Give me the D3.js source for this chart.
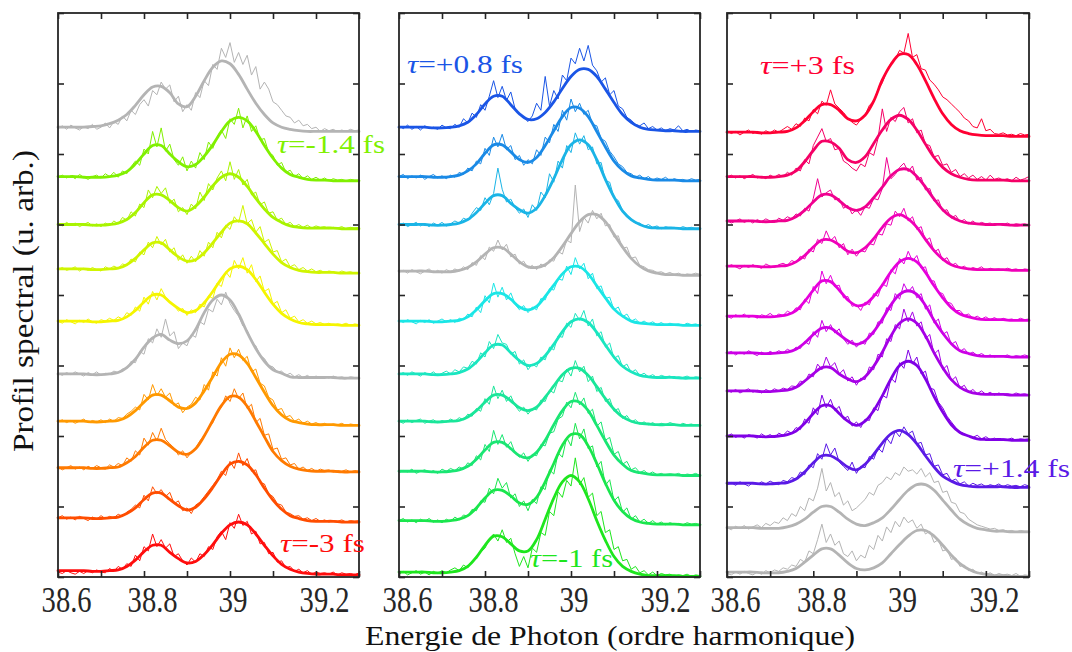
<!DOCTYPE html>
<html><head><meta charset="utf-8">
<script src="https://cdn.jsdelivr.net/npm/d3@7"></script>
<style>body{margin:0;background:#fff}</style>
</head><body><svg id="c" width="1072" height="652"></svg>
<script>
const xDomain = [38.6, 39.3];
const yDomain = [0, 800];
const xTickValues = [38.6, 38.7, 38.8, 38.9, 39.0, 39.1, 39.2, 39.3];
const xTickLabels = ["38.6", "", "38.8", "", "39", "", "39.2", ""];
const yTickValues = [0, 100, 200, 300, 400, 500, 600, 700, 800];
const xTitle = "Energie de Photon (ordre harmonique)";
const yTitle = "Profil spectral (u. arb.)";
const tauTexts = ["=-1.4 fs", "=-3 fs", "=+0.8 fs", "=-1 fs", "=+3 fs", "=+1.4 fs"];

// sampling grids (fit every 0.02, measured spectrum every 0.01)
const fitX = d3.range(36).map(i => 38.6 + i * 0.02);
const rawX = d3.range(71).map(j => 38.6 + j * 0.01);

const panel1Colors = ["#b4b4b4","#80f000","#a8f400","#d0f500","#f5f500","#b4b4b4","#ff9900","#ff7a00","#ff4d00","#ff0d0d"];
const panel1Offsets = [632, 562, 494, 431, 357, 282, 215, 149, 78, 3];
const panel1Fit = [
[6,6,6,6,7,8,11,16,24,37,52,63,64,55,39,35,50,72,91,100,96,81,60,40,24,12,6,3,1,0,0,0,0,0,0,0],
[6,6,6,5,5,5,6,8,13,24,38,50,50,38,27,20,23,35,51,70,85,90,85,70,50,32,18,9,5,2,1,1,0,0,0,0],
[6,6,6,6,5,5,6,8,13,23,37,48,48,40,30,25,32,45,61,73,78,73,60,43,28,16,9,4,2,1,1,1,1,0,0,0],
[6,6,6,6,5,5,6,7,12,21,33,43,43,33,23,17,19,29,43,58,71,74,70,57,42,27,15,8,4,2,1,1,1,0,0,0],
[6,6,6,6,5,5,6,7,12,21,33,43,43,33,24,18,21,32,48,66,80,84,79,65,47,30,17,9,4,2,1,1,1,0,0,0],
[6,6,6,6,5,5,6,8,15,27,44,57,62,54,49,53,69,93,111,118,111,91,65,42,24,12,7,2,1,1,1,1,1,0,0,0],
[6,6,6,6,5,5,6,7,12,21,33,43,43,35,26,24,32,49,69,89,101,100,88,68,47,28,15,7,4,2,1,1,1,0,0,0],
[6,6,6,6,5,5,6,7,13,22,35,45,45,37,28,25,33,51,73,94,107,106,93,72,50,29,16,8,4,2,1,1,1,0,0,0],
[6,6,6,6,5,5,6,7,12,20,32,41,41,32,23,17,21,33,49,67,82,86,81,67,48,31,18,9,5,2,1,1,1,0,0,0],
[6,6,6,6,5,5,6,7,12,21,33,42,42,32,23,17,19,29,43,59,71,75,71,58,42,27,15,8,4,2,1,1,1,0,0,0]
];
const panel1Raw = [
[4,8,3,9,5,2,7,4,10,3, 6,12,5,14,10,22,15,30,24,38, 45,36,58,52,70,60,66,42,50,28, 38,30,55,48,72,65,95,88,118,105, 126,98,112,95,108,80,92,60,70,60, 42,38,30,22,20,12,16,8,10,4, 6,0,4,1,3,0,2,0,3,1,2],
[5,8,4,7,3,9,5,2,6,8, 4,10,6,12,5,14,10,20,28,22, 45,38,70,48,75,42,52,30,22,34, 14,28,18,40,30,55,46,62,72,60, 88,80,103,75,92,70,78,58,60,40, 36,22,26,12,15,6,10,3,7,2, 5,1,4,0,3,1,2,0,2,1,1],
[7,4,9,5,8,3,6,9,4,7, 3,8,5,11,7,16,12,24,18,35, 30,55,44,60,50,58,36,42,24,30, 20,35,28,52,40,64,55,72,82,68, 95,70,84,62,70,48,52,34,38,22, 24,12,15,6,9,3,6,2,5,1, 4,2,3,0,2,1,3,0,2,1,2],
[5,8,4,6,9,3,7,4,8,5, 3,9,6,10,7,13,11,20,16,30, 26,44,36,52,40,48,30,36,18,26, 14,24,16,32,24,44,36,58,50,68, 62,80,72,96,70,76,58,66,44,48, 30,32,16,20,9,12,5,8,3,6, 2,4,1,3,2,0,3,1,2,0,1],
[6,3,8,5,2,7,4,9,5,3, 8,6,10,7,12,9,18,14,26,20, 40,30,48,36,52,40,34,28,20,24, 14,22,18,30,26,42,38,60,55,76, 68,92,80,96,74,86,62,70,48,52, 30,34,18,22,10,13,5,8,3,6, 2,4,1,3,0,2,1,3,0,2,1],
[7,4,8,5,9,6,3,8,5,9, 4,7,6,10,8,13,14,24,22,38, 34,56,50,70,58,84,60,66,42,50, 46,62,58,80,76,98,94,112,104,122, 106,96,88,74,68,52,46,32,28,18, 16,9,10,4,7,2,5,1,4,0, 3,1,2,0,3,1,2,0,2,1,1],
[5,8,4,7,3,6,9,4,7,5, 8,4,9,6,11,10,16,20,26,22, 44,36,58,42,52,40,46,28,32,18, 26,30,40,36,58,50,76,70,96,84, 110,96,108,92,98,76,80,60,56,40, 36,22,24,12,14,6,9,3,6,2, 4,1,3,0,2,1,3,0,2,1,1],
[7,3,6,9,4,7,3,8,5,9, 6,4,10,7,12,9,20,15,30,24, 48,38,56,44,62,46,40,34,24,30, 20,28,34,44,52,62,70,84,92,108, 100,118,104,112,90,96,70,76,52,54, 32,34,18,20,10,12,4,7,2,5, 1,4,2,3,0,2,1,3,0,2,1],
[6,9,4,7,3,8,5,2,7,4, 9,5,8,6,11,8,14,18,24,20, 38,30,50,40,46,36,42,26,30,16, 20,12,24,28,36,44,52,60,72,66, 86,76,98,80,90,72,74,56,54,40, 36,26,24,14,12,8,9,4,6,2, 5,1,3,0,2,1,3,0,2,1,2],
[4,2,6,3,1,5,2,6,3,7, 4,3,9,5,12,8,16,12,28,20, 40,34,58,40,50,38,44,26,30,20, 14,24,18,30,26,40,36,54,62,50, 74,66,86,70,76,58,62,44,46,30, 32,18,20,10,12,5,8,3,6,1, 4,2,3,1,4,0,3,1,2,0,3]
];

const panel2Colors = ["#1a55e6","#1a8ae6","#1ab4e6","#b4b4b4","#1ae6e6","#1ae6c0","#1ae69a","#1ae673","#1ae64d","#1ee61e"];
const panel2Offsets = [632, 562, 494, 428, 357, 282, 215, 144, 74, 1];
const panel2Fit = [
[6,6,6,6,5,5,6,8,13,24,39,50,50,38,25,17,18,27,42,61,78,88,88,78,60,41,24,13,6,3,2,1,1,0,0,0],
[6,6,6,6,5,5,6,8,14,24,39,51,51,41,30,26,33,50,71,91,104,103,91,70,48,28,15,7,4,2,1,1,1,0,0,0],
[6,6,6,6,5,5,6,8,13,23,36,47,47,36,27,22,29,47,71,98,119,126,119,98,70,45,25,13,6,2,1,1,1,0,0,0],
[6,6,6,6,5,5,5,7,11,19,30,39,39,30,19,12,11,15,25,41,59,76,86,86,76,58,40,24,13,6,3,1,1,0,0,0],
[6,6,6,6,5,5,6,7,12,22,35,45,45,37,26,22,27,41,57,73,83,83,73,56,39,23,13,6,3,2,1,1,1,0,0,0],
[6,6,6,6,5,5,6,8,13,23,36,47,47,36,25,18,21,32,48,66,80,84,79,65,47,30,17,9,4,2,1,1,1,0,0,0],
[6,6,6,6,5,5,6,7,12,21,33,43,43,35,25,21,26,40,56,72,81,81,71,55,38,23,12,6,3,2,1,1,1,0,0,0],
[6,6,6,6,5,5,6,8,13,23,36,47,47,38,28,25,33,50,72,92,105,104,92,71,49,29,16,7,4,2,1,1,1,0,0,0],
[6,6,6,6,5,5,6,8,13,24,38,49,49,41,31,29,39,61,87,113,128,128,112,87,59,35,19,9,4,2,1,1,1,0,0,0],
[6,6,6,6,5,5,6,8,14,27,44,57,56,46,36,36,52,81,111,134,143,134,110,79,51,28,14,7,3,1,1,1,1,0,0,0]
];
const panel2Raw = [
[8,4,9,3,7,2,8,4,6,3, 9,5,4,10,6,18,12,26,20,38, 30,50,72,48,64,44,56,32,24,20, 14,22,40,30,78,36,58,46,80,72, 104,96,118,100,122,94,86,70,76,52, 58,36,32,20,16,10,8,12,4,7, 2,5,1,4,2,8,1,3,0,2,1],
[6,9,3,7,4,8,2,6,9,4, 7,3,8,5,12,9,18,14,28,24, 46,36,62,48,66,44,50,30,36,22, 30,24,44,36,62,54,80,70,100,86, 116,98,110,94,100,80,78,60,56,42, 34,24,20,12,10,5,8,3,6,1, 4,2,5,0,3,1,2,0,3,1,2],
[5,8,3,6,9,4,7,3,8,5, 9,4,7,11,8,15,12,22,30,26, 44,34,50,86,56,38,42,30,22,28, 16,34,26,52,44,78,66,96,86,118, 108,136,120,132,112,116,92,94,68,66, 44,40,26,20,14,8,8,3,6,2, 4,0,3,1,2,0,3,1,2,0,1],
[4,7,3,8,5,2,6,9,4,7, 3,8,5,9,6,12,8,18,14,28, 22,40,34,50,36,44,26,30,16,20, 10,14,8,16,12,22,20,34,30,50, 46,128,62,82,74,92,80,88,70,72, 54,56,38,40,24,26,14,12,8,7, 4,5,2,4,1,3,0,2,1,3,1],
[7,4,8,5,2,7,4,8,3,6, 9,5,8,4,10,8,16,12,26,18, 42,32,60,40,54,36,46,30,22,28, 18,26,22,38,36,52,50,66,64,84, 72,96,80,88,66,74,52,56,38,40, 22,26,12,16,6,9,3,6,2,5, 1,4,0,3,1,2,0,3,1,2,0],
[5,8,4,9,6,3,8,5,9,4, 7,10,6,12,9,16,14,24,20,36, 30,52,42,62,50,48,34,38,20,26, 12,20,16,30,26,44,40,60,58,78, 72,92,82,96,74,84,60,66,44,50, 28,32,16,20,8,12,4,7,2,5, 1,4,2,3,0,2,1,3,0,2,1],
[6,3,8,4,7,9,3,6,8,4, 7,5,9,6,11,8,16,13,24,20, 38,30,56,38,50,34,42,28,20,26, 16,24,22,36,34,50,46,64,62,80, 70,92,76,84,62,70,48,54,34,38, 20,24,10,14,5,8,2,5,1,4, 0,3,1,4,2,0,3,1,2,0,2],
[4,7,5,9,3,6,8,4,7,3, 9,6,10,7,12,9,18,14,28,22, 44,34,64,44,58,40,48,32,26,32, 20,30,28,44,42,60,62,80,84,104, 96,118,100,110,88,94,70,76,50,54, 30,34,16,20,8,11,4,7,2,5, 1,3,0,2,1,3,0,2,1,3,0],
[6,9,4,7,3,8,5,9,4,7, 3,8,5,11,7,14,12,22,20,34, 32,52,44,66,52,60,38,44,26,34, 20,36,30,54,50,78,72,102,96,124, 112,144,122,136,108,112,82,90,56,64, 34,40,18,24,8,13,4,8,2,6, 1,4,0,3,1,2,0,3,1,2,0],
[3,7,2,5,8,3,6,2,7,4, 8,5,9,12,8,16,12,22,28,34, 40,52,60,50,66,48,54,32,14,28, 12,40,34,62,58,92,86,120,112,136, 128,168,130,140,112,118,86,92,62,66, 38,42,22,24,10,14,5,8,2,6, 1,4,2,3,0,2,1,3,0,2,1]
];

const panel3Colors = ["#ff0033","#f50066","#f00090","#f000b8","#e600dc","#cc00e6","#a600e6","#8000e6","#5a1ae6","#b4b4b4","#b4b4b4"];
const panel3Offsets = [625, 562, 499, 435, 364, 312, 258, 194, 127, 64, 1];
const panel3Fit = [
[6,6,6,6,5,5,6,7,12,22,35,45,45,37,25,22,30,50,80,102,116,116,102,79,54,32,17,8,4,2,1,1,1,0,0,0],
[6,6,6,6,5,5,6,8,14,27,43,56,55,46,30,26,34,53,72,87,93,87,72,52,33,19,10,5,2,1,1,1,1,0,0,0],
[6,6,6,6,5,5,6,7,12,21,33,43,43,35,25,21,26,39,54,70,79,79,69,54,37,22,12,6,3,2,1,1,1,0,0,0],
[6,6,6,6,5,5,6,7,12,21,33,43,43,36,27,25,32,45,61,74,79,73,61,44,28,16,8,4,2,1,1,1,1,0,0,0],
[6,6,6,6,5,5,6,8,14,27,43,56,55,43,29,21,23,34,50,69,83,88,83,68,49,32,18,9,5,2,1,1,1,0,0,0],
[6,6,6,6,5,5,6,7,11,20,32,41,41,32,23,18,23,36,54,74,89,94,89,73,52,34,19,9,5,2,1,1,1,0,0,0],
[6,6,6,6,5,5,6,7,11,20,30,39,39,30,23,19,26,41,61,84,102,108,102,84,60,39,22,11,5,2,1,1,1,0,0,0],
[6,6,6,6,5,5,6,8,13,24,38,49,49,38,27,21,27,42,63,87,106,112,106,87,62,40,22,11,6,2,1,1,1,0,0,0],
[6,6,6,6,5,5,6,7,12,22,35,45,45,38,29,25,33,47,63,76,81,75,62,45,29,16,9,4,2,1,1,1,1,0,0,0],
[6,6,6,6,5,5,5,7,11,18,28,36,36,28,18,11,9,13,20,32,46,59,67,67,59,45,31,18,10,5,3,1,1,0,0,0],
[6,6,6,6,5,5,5,7,11,20,30,39,39,30,19,11,9,12,19,32,45,57,65,65,57,44,30,18,10,5,3,1,1,0,0,0]
];
const panel3Raw = [
[8,4,7,2,6,9,4,7,3,8, 5,9,6,10,14,10,18,14,26,22, 38,32,50,44,66,46,40,34,26,20, 16,24,30,44,50,66,76,92,104,110, 122,118,146,112,116,96,94,80,74,66, 56,52,46,40,34,26,22,14,12,25, 8,10,4,3,5,2,3,1,4,2,3],
[5,8,4,7,3,6,9,4,6,3, 8,5,9,6,12,8,18,14,30,24, 50,62,74,56,60,44,46,28,24,18, 14,24,20,40,36,60,102,70,90,84, 98,104,82,88,68,72,52,50,34,36, 22,24,12,16,6,10,4,8,2,6, 1,8,2,4,1,3,0,5,1,3,6],
[7,3,6,9,4,7,3,8,5,9, 6,4,10,7,12,9,16,13,24,20, 38,66,40,46,50,36,38,24,28,16, 22,14,26,24,38,36,52,96,66,72, 82,88,76,84,64,68,50,52,34,36, 20,22,10,14,5,8,2,6,1,4, 2,3,0,2,1,3,0,2,1,2,0],
[4,8,5,2,7,4,8,5,3,9, 6,4,8,10,7,14,11,20,16,30, 26,44,38,56,42,48,32,38,22,30, 20,28,26,38,36,52,50,66,64,84, 76,88,70,76,58,62,42,46,26,30, 14,18,7,10,3,6,1,4,2,5, 0,3,1,2,0,3,1,2,0,2,1],
[6,3,8,5,9,4,7,3,8,6, 10,5,9,7,13,10,18,15,30,24, 48,38,70,52,64,48,50,32,34,20, 22,14,26,22,38,34,52,48,72,66, 88,80,98,84,92,74,76,56,56,40, 38,26,24,14,14,7,9,3,6,2, 5,1,4,0,3,1,2,0,3,1,2],
[5,8,3,7,4,9,5,2,7,4, 8,5,9,6,11,8,14,12,22,18, 36,28,52,36,46,34,40,26,18,24, 14,22,18,34,32,50,48,70,66,90, 82,104,92,100,84,90,68,74,48,54, 32,36,18,22,8,12,4,7,2,5, 1,3,0,2,1,3,0,2,1,3,1],
[7,4,8,3,6,9,4,7,3,8, 5,9,6,10,8,13,12,20,18,30, 26,44,36,54,40,46,30,36,20,26, 14,24,22,40,36,58,54,80,76,100, 94,122,104,118,98,104,80,86,58,64, 36,42,20,26,10,14,4,8,2,6, 1,4,0,3,1,2,0,3,1,2,0],
[5,9,4,7,3,8,6,3,9,5, 8,4,10,7,13,10,18,15,30,24, 46,36,64,46,58,42,48,30,34,20, 26,18,30,28,46,42,64,60,88,82, 110,102,128,108,118,94,98,74,72,54, 46,34,26,18,12,9,6,4,7,2, 5,1,3,0,2,1,3,0,2,1,2],
[4,7,3,8,5,2,7,4,8,5, 9,6,4,10,8,14,12,22,18,32, 28,48,40,62,46,56,36,30,24,36, 20,30,28,44,40,56,50,70,62,80, 72,86,76,80,62,64,46,48,30,32, 18,20,9,12,5,8,2,6,3,5, 1,4,2,5,1,4,2,3,1,4,2],
[6,3,8,5,9,4,7,10,6,12, 9,14,12,20,16,26,22,36,30,48, 44,62,90,58,70,50,56,38,44,30, 34,40,46,56,52,66,70,78,74,84, 80,92,86,88,82,90,78,84,70,72, 56,58,42,40,28,26,18,14,10,8, 6,4,5,2,3,1,2,0,2,1,1],
[4,2,6,3,7,4,2,6,3,8, 5,9,7,12,10,16,14,24,20,36, 32,52,74,48,60,44,50,32,28,36, 22,30,26,44,38,58,50,70,62,78, 70,84,76,80,68,74,60,64,48,52, 36,38,24,26,14,16,8,10,4,6, 2,5,1,4,2,3,1,4,0,2,1]
];

// ---------------- drawing ----------------
const svg = d3.select("#c");
const FONT = "'Liberation Serif','DejaVu Serif',serif";
const INK = "#262626";
const plotTop = 13, plotBottom = 577;
const panelsLayout = [{x0: 58, x1: 359}, {x0: 399, x1: 700}, {x0: 727, x1: 1029}];
const panelData = [
  {colors: panel1Colors, offsets: panel1Offsets, fit: panel1Fit, raw: panel1Raw},
  {colors: panel2Colors, offsets: panel2Offsets, fit: panel2Fit, raw: panel2Raw},
  {colors: panel3Colors, offsets: panel3Offsets, fit: panel3Fit, raw: panel3Raw}
];

panelsLayout.forEach((L, p) => {
  const x = d3.scaleLinear().domain(xDomain).range([L.x0, L.x1]);
  const y = d3.scaleLinear().domain(yDomain).range([plotBottom, plotTop]);
  const g = svg.append("g");
  const D = panelData[p];
  D.offsets.forEach((off, k) => {
    const rawLine = d3.line().x((d, j) => x(rawX[j])).y(d => y(off + d));
    const fitLine = d3.line().x((d, i) => x(fitX[i])).y(d => y(off + d)).curve(d3.curveCatmullRom.alpha(0.5));
    g.append("path").attr("d", rawLine(D.raw[k])).attr("fill", "none")
      .attr("stroke", D.colors[k]).attr("stroke-width", 1).attr("stroke-linejoin", "round");
    g.append("path").attr("d", fitLine(D.fit[k])).attr("fill", "none")
      .attr("stroke", D.colors[k]).attr("stroke-width", 2.8).attr("stroke-linejoin", "round").attr("stroke-linecap", "round");
  });

  const tick = 6;
  const axes = [
    [d3.axisBottom(x).tickValues(xTickValues), `translate(0,${plotBottom})`],
    [d3.axisTop(x).tickValues(xTickValues), `translate(0,${plotTop})`],
    [d3.axisLeft(y).tickValues(yTickValues), `translate(${L.x0},0)`],
    [d3.axisRight(y).tickValues(yTickValues), `translate(${L.x1},0)`]
  ];
  axes.forEach(([ax, tr]) => {
    const a = g.append("g").attr("transform", tr)
      .call(ax.tickSizeInner(-tick).tickSizeOuter(0).tickFormat(""));
    a.select(".domain").remove();
    a.selectAll("line").attr("stroke", INK).attr("stroke-width", 1.6);
  });
  g.append("rect").attr("x", L.x0).attr("y", plotTop)
    .attr("width", L.x1 - L.x0).attr("height", plotBottom - plotTop)
    .attr("fill", "none").attr("stroke", INK).attr("stroke-width", 1.8);

  xTickValues.forEach((v, i) => {
    const lab = xTickLabels[i];
    if (!lab) return;
    g.append("text").attr("x", x(v) + (lab.length === 2 ? 3 : 8.6)).attr("y", 612)
      .attr("text-anchor", "middle").attr("font-family", FONT).attr("font-size", 36)
      .attr("fill", INK).attr("textLength", lab.length === 2 ? 29 : 50)
      .attr("lengthAdjust", "spacingAndGlyphs").text(lab);
  });
});

// axis titles
svg.append("text").attr("x", 365).attr("y", 645).attr("font-family", FONT)
  .attr("font-size", 28).attr("fill", "#111").attr("textLength", 490)
  .attr("lengthAdjust", "spacingAndGlyphs").text(xTitle);
svg.append("text").attr("transform", "translate(33,452) rotate(-90)")
  .attr("font-family", FONT).attr("font-size", 30).attr("fill", "#111")
  .attr("textLength", 302).attr("lengthAdjust", "spacingAndGlyphs").text(yTitle);

// delay annotations
const tauLayout = [
  {x: 277, y: 153, w: 108, c: panel1Colors[1]},
  {x: 280, y: 552, w: 85, c: panel1Colors[9]},
  {x: 407, y: 73, w: 116, c: panel2Colors[0]},
  {x: 530, y: 567, w: 83, c: panel2Colors[9]},
  {x: 760, y: 74, w: 95, c: panel3Colors[0]},
  {x: 953, y: 477, w: 117, c: panel3Colors[8]}
];
tauLayout.forEach((t, i) => {
  const tx = svg.append("text").attr("x", t.x).attr("y", t.y).attr("font-family", FONT)
    .attr("font-size", 26).attr("fill", t.c).attr("textLength", t.w)
    .attr("lengthAdjust", "spacingAndGlyphs");
  tx.append("tspan").attr("font-style", "italic").text("τ");
  tx.append("tspan").text(tauTexts[i]);
});
</script>
</body></html>
